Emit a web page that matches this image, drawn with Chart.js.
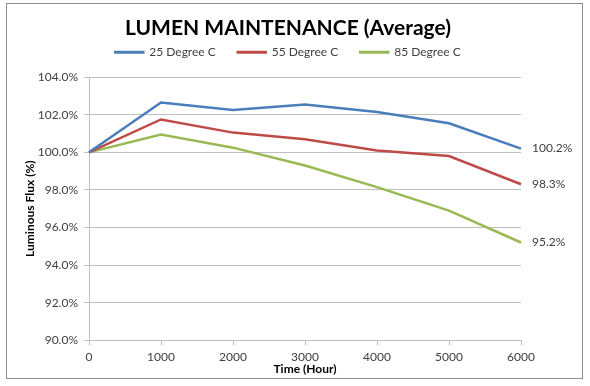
<!DOCTYPE html>
<html lang="en">
  <head>
    <meta charset="UTF-8" />
    <title>Lumen Maintenance</title>
    <script src="https://cdn.jsdelivr.net/npm/chart.js@4"></script>
    <style>
      html, body { margin: 0; padding: 0; background: #fff; }
      #wrap { width: 590px; height: 386px; }
    </style>
  </head>
  <body>
    <div id="wrap"><canvas id="myChart" width="590" height="386"></canvas></div>
    <script>
      const hours = ['0', '1000', '2000', '3000', '4000', '5000', '6000'];
      const deg25 = [100.0, 102.65, 102.25, 102.55, 102.15, 101.55, 100.2];
      const deg55 = [100.0, 101.75, 101.05, 100.7, 100.1, 99.8, 98.3];
      const deg85 = [100.0, 100.95, 100.25, 99.3, 98.15, 96.9, 95.2];
      const endLabels = ['100.2%', '98.3%', '95.2%'];
      const yTicks = [90, 92, 94, 96, 98, 100, 102, 104];

      const font = 'Lato, "Open Sans", sans-serif';

      // outer frame + value labels next to the last point of each line
      const extras = {
        id: 'extras',
        beforeInit(chart) {
          // a bit more room under the legend
          const fit = chart.legend.fit;
          chart.legend.fit = function () {
            fit.call(this);
            this.height += 9;
          };
        },
        afterDraw(chart) {
          const ctx = chart.ctx;
          ctx.save();
          ctx.strokeStyle = '#8c8c8c';
          ctx.lineWidth = 1;
          ctx.strokeRect(6.5, 3.5, 576, 375);

          ctx.font = '12px ' + font;
          ctx.fillStyle = '#404040';
          ctx.textBaseline = 'middle';
          chart.data.datasets.forEach((ds, i) => {
            const meta = chart.getDatasetMeta(i);
            const pt = meta.data[meta.data.length - 1];
            ctx.fillText(endLabels[i], pt.x + 11, pt.y);
          });
          ctx.restore();
        }
      };

      const ctx = document.getElementById('myChart').getContext('2d');
      const myChart = new Chart(ctx, {
        type: 'line',
        data: {
          labels: hours,
          datasets: [
            { label: '25 Degree C', data: deg25, borderColor: '#4a7ebb', backgroundColor: '#4a7ebb' },
            { label: '55 Degree C', data: deg55, borderColor: '#be4b48', backgroundColor: '#be4b48' },
            { label: '85 Degree C', data: deg85, borderColor: '#98b954', backgroundColor: '#98b954' }
          ]
        },
        options: {
          responsive: false,
          animation: false,
          elements: {
            line: { borderWidth: 2.5, tension: 0 },
            point: { radius: 0 }
          },
          layout: { padding: { left: 6, right: 20, top: 4, bottom: 10 } },
          plugins: {
            title: {
              display: true,
              text: 'LUMEN MAINTENANCE (Average)',
              color: '#000',
              font: { family: font, size: 21, weight: 'bold' },
              padding: { top: 12, bottom: -17 }
            },
            legend: {
              display: true,
              labels: {
                boxWidth: 28,
                boxHeight: 0.5,
                color: '#404040',
                font: { family: font, size: 12 },
                padding: 22
              }
            },
            tooltip: { enabled: false }
          },
          scales: {
            x: {
              offset: false,
              grid: { display: true, drawOnChartArea: false, tickLength: 5, color: '#bfbfbf' },
              border: { color: '#bfbfbf' },
              ticks: { color: '#404040', font: { family: font, size: 12 }, maxRotation: 0, padding: 5 },
              title: {
                display: true,
                text: 'Time (Hour)',
                color: '#000',
                font: { family: font, size: 12, weight: 'bold' },
                padding: { top: -8, bottom: 0 }
              }
            },
            y: {
              min: 90,
              max: 104,
              afterBuildTicks(scale) {
                scale.ticks = yTicks.map(v => ({ value: v }));
              },
              afterFit(scale) { scale.width = 83; },
              grid: { color: '#bfbfbf', tickLength: 5 },
              border: { color: '#bfbfbf' },
              ticks: {
                color: '#404040',
                font: { family: font, size: 12 },
                padding: 6,
                callback: v => v.toFixed(1) + '%'
              },
              title: {
                display: true,
                text: 'Luminous Flux (%)',
                color: '#000',
                font: { family: font, size: 12, weight: 'bold' },
                padding: { top: 17, bottom: 0 }
              }
            },
            // empty right-hand axis that only reserves room for the end labels
            y2: {
              type: 'linear',
              position: 'right',
              afterFit(scale) { scale.width = 49; },
              grid: { display: false },
              border: { display: false },
              ticks: { display: false }
            }
          }
        },
        plugins: [extras]
      });
    </script>
  </body>
</html>
